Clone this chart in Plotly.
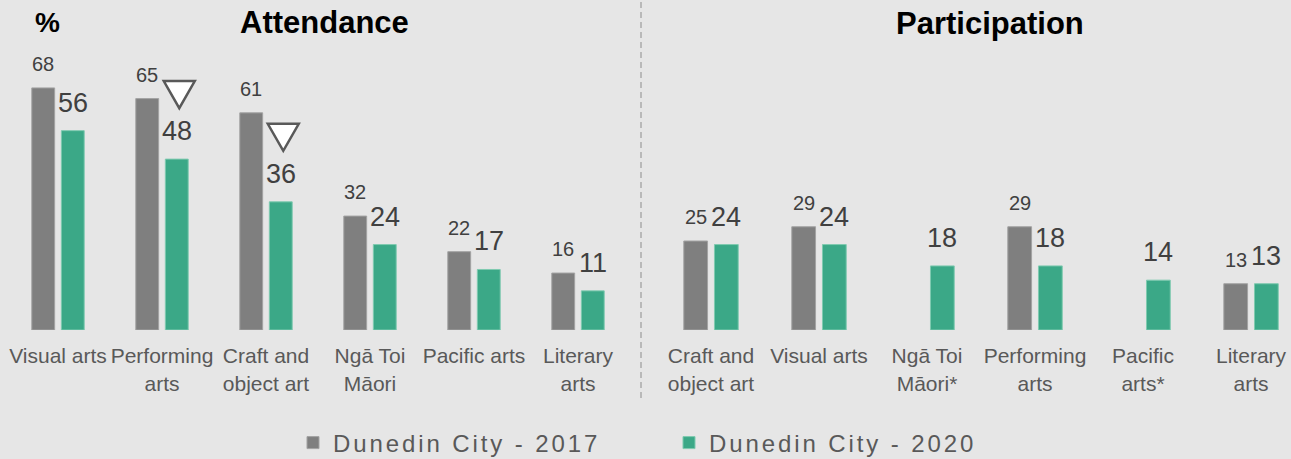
import plotly.graph_objects as go

# ---------------- data ----------------
att_categories = ["Visual arts", "Performing<br>arts", "Craft and<br>object art",
                  "Ngā Toi<br>Māori", "Pacific arts", "Literary<br>arts"]
att_2017 = [68, 65, 61, 32, 22, 16]
att_2020 = [56, 48, 36, 24, 17, 11]
att_sig_down = [False, True, True, False, False, False]

par_categories = ["Craft and<br>object art", "Visual arts", "Ngā Toi<br>Māori*",
                  "Performing<br>arts", "Pacific<br>arts*", "Literary<br>arts"]
par_2017 = [25, 29, None, 29, None, 13]
par_2020 = [24, 24, 18, 18, 14, 13]
par_sig_down = [False, False, False, False, False, False]

series_names = ["Dunedin City - 2017", "Dunedin City - 2020"]
panel_titles = ["Attendance", "Participation"]
unit_label = "%"

# ---------------- style ----------------
W, H = 1291, 459
BG = "#e6e6e6"
C17 = "#7f7f7f"
C17_EDGE = "#a3a3a3"
C20 = "#3ba887"
C20_EDGE = "#7fcab0"
FONT = "Liberation Sans, Arial, sans-serif"
BAR_W = 0.22
OFF17 = -0.252
OFF20 = 0.032
TOP, BOT = 40, 129
PLOT_H = H - TOP - BOT
BASE_PX = H - BOT
PX_PER_UNIT = 3.56
YMAX = PLOT_H / PX_PER_UNIT


def py(px):
    """screen pixel row -> paper y"""
    return (BASE_PX - px) / PLOT_H


fig = go.Figure()
annotations = []
shapes = []

panels = [
    ("x", "y", att_categories, att_2017, att_2020, att_sig_down, True),
    ("x2", "y2", par_categories, par_2017, par_2020, par_sig_down, False),
]

for xa, ya, cats, v17, v20, sig, show in panels:
    idx = list(range(len(cats)))
    fig.add_trace(go.Bar(
        x=idx, y=v17, xaxis=xa, yaxis=ya, name=series_names[0],
        legendgroup="s17", showlegend=show, width=BAR_W, offset=OFF17,
        marker=dict(color=C17, line=dict(color=C17_EDGE, width=1)),
        hoverinfo="skip"))
    fig.add_trace(go.Bar(
        x=idx, y=v20, xaxis=xa, yaxis=ya, name=series_names[1],
        legendgroup="s20", showlegend=show, width=BAR_W, offset=OFF20,
        marker=dict(color=C20, line=dict(color=C20_EDGE, width=1)),
        hoverinfo="skip"))
    for i in idx:
        if v17[i] is not None:
            annotations.append(dict(
                x=i + OFF17 + BAR_W / 2, y=v17[i], xref=xa, yref=ya,
                text=str(v17[i]), showarrow=False, yanchor="bottom", yshift=11,
                font=dict(family=FONT, size=20, color="#404040")))
        if v20[i] is not None:
            annotations.append(dict(
                x=i + OFF20 + BAR_W / 2, y=v20[i], xref=xa, yref=ya,
                text=str(v20[i]), showarrow=False, yanchor="bottom", yshift=11,
                font=dict(family=FONT, size=27, color="#404040")))
        if sig[i]:
            shapes.append(dict(
                type="path", xref=xa, yref=ya,
                xsizemode="pixel", ysizemode="pixel",
                xanchor=i + OFF20 + BAR_W / 2, yanchor=v20[i],
                path="M-13,78 L18,78 L2.5,51 Z",
                fillcolor="white", line=dict(color="#595959", width=2.5)))

# titles
annotations.append(dict(x=47 / W, y=py(22), xref="paper", yref="paper",
                        xanchor="center", yanchor="middle",
                        text="<b>" + unit_label + "</b>", showarrow=False,
                        font=dict(family=FONT, size=28, color="black")))
annotations.append(dict(x=324 / W, y=py(22), xref="paper", yref="paper",
                        xanchor="center", yanchor="middle",
                        text="<b>" + panel_titles[0] + "</b>", showarrow=False,
                        font=dict(family=FONT, size=31, color="black")))
annotations.append(dict(x=990 / W, y=py(23), xref="paper", yref="paper",
                        xanchor="center", yanchor="middle",
                        text="<b>" + panel_titles[1] + "</b>", showarrow=False,
                        font=dict(family=FONT, size=31, color="black")))

# divider
shapes.append(dict(type="line", xref="paper", yref="paper",
                   x0=641 / W, x1=641 / W, y0=py(398), y1=py(0),
                   line=dict(color="#8c8c8c", width=1, dash="6px,4px")))

tickfont = dict(family=FONT, size=21, color="#595959")
xcommon = dict(showgrid=False, zeroline=False, showline=False, ticks="outside",
               ticklen=7, tickcolor="rgba(0,0,0,0)", tickfont=tickfont,
               fixedrange=True)
ycommon = dict(range=[0, YMAX], showgrid=False, zeroline=False, showline=False,
               showticklabels=False, fixedrange=True)

fig.update_layout(
    width=W, height=H,
    paper_bgcolor=BG, plot_bgcolor=BG,
    margin=dict(l=0, r=0, t=TOP, b=BOT),
    barmode="overlay",
    xaxis=dict(domain=[6 / W, 630 / W], range=[-0.5, 5.5],
               tickmode="array", tickvals=list(range(len(att_categories))),
               ticktext=att_categories, **xcommon),
    xaxis2=dict(domain=[657 / W, 1.0], range=[-0.5, 5.37], anchor="y2",
                tickmode="array", tickvals=list(range(len(par_categories))),
                ticktext=par_categories, **xcommon),
    yaxis=dict(domain=[0, 1], anchor="x", **ycommon),
    yaxis2=dict(domain=[0, 1], anchor="x2", **ycommon),
    legend=dict(orientation="h", xref="container", yref="container",
                x=293 / W, xanchor="left", y=1 - 443 / H, yanchor="middle",
                entrywidth=331, entrywidthmode="pixels",
                font=dict(family=FONT, size=24, color="#595959"),
                bgcolor="rgba(0,0,0,0)", traceorder="normal"),
    annotations=annotations,
    shapes=shapes,
    showlegend=True,
)

fig.write_html(
    "out.html",
    config={"displayModeBar": False, "staticPlot": True},
    post_script=(
        "document.body.style.margin='0';"
        "document.querySelectorAll('.legendtext').forEach(function(t){"
        "t.style.letterSpacing='2.9px';});"
    ),
)
